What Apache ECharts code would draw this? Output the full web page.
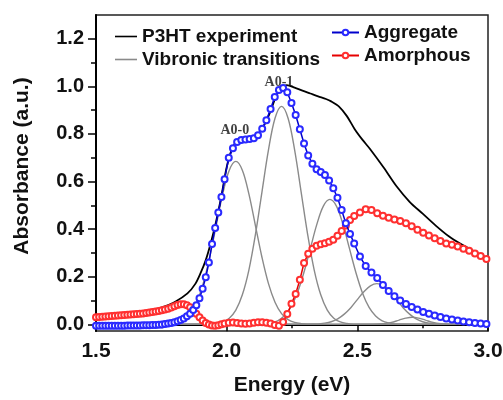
<!DOCTYPE html>
<html><head><meta charset="utf-8">
<script src="https://cdn.jsdelivr.net/npm/echarts@6/dist/echarts.min.js"></script>
<style>html,body{margin:0;padding:0;background:#fff}#c{width:503px;height:400px}</style>
</head><body><div id="c"></div>
<script>
// ---- data ----
const markerE = [1.500,1.512,1.524,1.536,1.548,1.560,1.572,1.584,1.596,1.608,1.620,1.632,1.644,1.656,1.668,1.680,1.692,1.704,1.716,1.728,1.740,1.752,1.764,1.776,1.788,1.800,1.812,1.824,1.836,1.848,1.860,1.872,1.884,1.896,1.908,1.920,1.932,1.944,1.956,1.968,1.980,1.992,
  2.008,2.024,2.040,2.056,2.072,2.088,2.104,2.120,2.136,2.152,2.168,2.184,2.200,2.216,2.232,2.248,2.264,2.280,2.296,2.312,2.328,2.344,2.360,2.376,2.392,2.408,2.424,2.440,2.456,2.472,2.488,
  2.510,2.532,2.554,2.576,2.598,2.620,2.642,2.664,2.686,2.708,2.730,2.752,2.774,2.796,2.818,2.840,2.862,2.884,2.906,2.928,2.950,2.972,2.994];
const aggregate = [-0.006,-0.006,-0.006,-0.006,-0.006,-0.006,-0.006,-0.006,-0.006,-0.006,-0.005,-0.005,-0.005,-0.005,-0.005,-0.004,-0.004,-0.004,-0.003,-0.003,-0.002,-0.001,0.001,0.003,0.006,0.009,0.013,0.018,0.025,0.034,0.045,0.060,0.080,0.110,0.150,0.198,0.260,0.338,0.405,0.470,0.535,0.610,
  0.700,0.740,0.766,0.775,0.777,0.779,0.782,0.795,0.822,0.858,0.905,0.955,0.985,0.993,0.975,0.930,0.880,0.820,0.760,0.710,0.675,0.652,0.640,0.628,0.605,0.572,0.532,0.480,0.425,0.380,0.340,
  0.285,0.245,0.218,0.195,0.165,0.140,0.118,0.100,0.085,0.073,0.062,0.052,0.044,0.037,0.031,0.025,0.020,0.016,0.012,0.009,0.006,0.003,0.001];
const amorphous = [0.030,0.031,0.032,0.033,0.034,0.035,0.036,0.037,0.038,0.039,0.040,0.041,0.042,0.043,0.045,0.046,0.048,0.050,0.052,0.054,0.056,0.059,0.062,0.066,0.071,0.076,0.081,0.084,0.084,0.080,0.072,0.060,0.045,0.030,0.016,0.006,-0.001,-0.005,-0.006,-0.004,0.000,0.004,
  0.007,0.008,0.006,0.003,0.002,0.004,0.007,0.009,0.009,0.007,0.003,-0.003,-0.006,0.010,0.043,0.086,0.128,0.187,0.258,0.297,0.318,0.330,0.337,0.341,0.347,0.356,0.372,0.392,0.415,0.438,0.455,
  0.470,0.484,0.480,0.467,0.456,0.448,0.441,0.434,0.425,0.412,0.398,0.385,0.373,0.362,0.350,0.340,0.334,0.327,0.318,0.309,0.298,0.287,0.275];
const experimentE = [1.50,1.55,1.60,1.65,1.70,1.75,1.80,1.85,1.88,1.90,1.92,1.94,1.96,1.98,2.00,2.02,2.04,2.07,2.10,2.13,2.16,2.19,2.21,2.23,2.26,2.29,2.32,2.35,2.38,2.40,2.43,2.46,2.49,2.52,2.55,2.60,2.65,2.70,2.75,2.80,2.85,2.90,2.95,3.00];
const experiment = [0.025,0.030,0.036,0.044,0.055,0.070,0.093,0.130,0.170,0.215,0.270,0.345,0.435,0.540,0.660,0.735,0.770,0.778,0.785,0.812,0.875,0.960,0.995,1.005,0.995,0.982,0.970,0.958,0.947,0.937,0.915,0.875,0.820,0.775,0.735,0.660,0.580,0.515,0.465,0.415,0.370,0.335,0.305,0.277];
const vib1E = [1.50,1.76,1.785,1.81,1.835,1.86,1.885,1.91,1.935,1.96,1.985,2.01,2.035,2.06,2.085,2.11,2.135,2.16,2.185,2.21,2.235,2.26,2.285,2.31,3.00];
const vib1  = [0,0.001,0.003,0.008,0.020,0.045,0.093,0.171,0.282,0.415,0.548,0.648,0.685,0.648,0.548,0.415,0.282,0.171,0.093,0.045,0.020,0.008,0.003,0.001,0];
const vib2E = [1.50,1.935,1.96,1.985,2.01,2.035,2.06,2.085,2.11,2.135,2.16,2.185,2.21,2.235,2.26,2.285,2.31,2.335,2.36,2.385,2.41,2.435,2.46,2.485,3.00];
const vib2  = [0,0.001,0.0035,0.010,0.026,0.060,0.124,0.228,0.377,0.556,0.733,0.866,0.916,0.866,0.733,0.556,0.377,0.228,0.124,0.060,0.026,0.010,0.0035,0.001,0];
const vib3E = [1.50,2.145,2.17,2.195,2.22,2.245,2.27,2.295,2.32,2.345,2.37,2.395,2.42,2.445,2.47,2.495,2.52,2.545,2.57,2.595,2.62,2.645,3.00];
const vib3  = [0,0.002,0.006,0.015,0.035,0.071,0.131,0.216,0.318,0.420,0.497,0.525,0.497,0.420,0.318,0.216,0.131,0.071,0.035,0.015,0.006,0.002,0];
const vib4E = [1.50,2.35,2.375,2.40,2.425,2.45,2.475,2.50,2.525,2.55,2.575,2.60,2.625,2.65,2.675,2.70,2.725,2.75,2.775,2.80,3.00];
const vib4  = [0,0.002,0.005,0.011,0.023,0.043,0.070,0.104,0.137,0.162,0.171,0.162,0.137,0.104,0.070,0.043,0.023,0.011,0.005,0.002,0];
const vib5E = [1.50,2.56,2.60,2.63,2.66,2.685,2.71,2.735,2.76,2.79,2.82,2.86,3.00];
const vib5  = [0,0,0.003,0.008,0.018,0.026,0.030,0.026,0.018,0.008,0.003,0,0];
const xTicks = [1.5, 2.0, 2.5, 3.0];
const xMinorTicks = [1.75, 2.25, 2.75];
const yTicks = [0, 0.2, 0.4, 0.6, 0.8, 1.0, 1.2];
const yMinorTicks = [0.1, 0.3, 0.5, 0.7, 0.9, 1.1];
const peakNames = ['A0-0', 'A0-1'];
const peakE = [2.031, 2.200];
const peakA = [0.816, 1.015];

// ---- chart ----
const pair = (xs, ys) => xs.map((x, i) => [x, ys[i]]);
const FONT = '"Liberation Sans", Arial, sans-serif';
const LINE_ICON = 'path://M0,0H22V1.6H0Z';
const chart = echarts.init(document.getElementById('c'), null, {renderer: 'canvas'});

const vibSeries = [[vib1E, vib1], [vib2E, vib2], [vib3E, vib3], [vib4E, vib4], [vib5E, vib5]].map(([e, v]) => ({
  name: 'Vibronic transitions', type: 'line', xAxisIndex: 0, yAxisIndex: 0,
  data: pair(e, v), smooth: 0.35, showSymbol: false, symbol: 'none',
  lineStyle: {color: '#8a8a8a', width: 1.4}, itemStyle: {color: '#8a8a8a'}, z: 2, silent: true
}));

chart.setOption({
  animation: false,
  backgroundColor: '#fff',
  grid: {left: 96, right: 15, top: 15, bottom: 69, show: true, borderColor: '#222', borderWidth: 1.5, containLabel: false, outerBoundsMode: 'none'},
  legend: [
    {data: [{name: 'P3HT experiment', icon: LINE_ICON}, {name: 'Vibronic transitions', icon: LINE_ICON}],
     orient: 'vertical', left: 115, top: 27, itemWidth: 22, itemHeight: 7, itemGap: 4, padding: 0,
     textStyle: {fontFamily: FONT, fontSize: 19, fontWeight: 'bold', color: '#111'}},
    {data: ['Aggregate', 'Amorphous'], orient: 'vertical', left: 331, top: 23, itemWidth: 27, itemHeight: 7, itemGap: 4, padding: 0,
     textStyle: {fontFamily: FONT, fontSize: 19, fontWeight: 'bold', color: '#111'}}
  ],
  xAxis: [
    {type: 'value', min: 1.5, max: 3.0, position: 'bottom',
     axisLine: {show: true, lineStyle: {color: '#000', width: 2}},
     axisTick: {show: true, inside: false, length: 7, lineStyle: {color: '#000', width: 1.5}, customValues: xTicks},
     axisLabel: {show: true, customValues: xTicks, margin: 10, formatter: v => v.toFixed(1),
       fontFamily: FONT, fontSize: 21, fontWeight: 'bold', color: '#111'},
     splitLine: {show: false},
     name: 'Energy (eV)', nameLocation: 'middle', nameGap: 44,
     nameTextStyle: {fontFamily: FONT, fontSize: 21, fontWeight: 'bold', color: '#111'}},
    {type: 'value', min: 1.5, max: 3.0, position: 'bottom',
     axisLine: {show: false},
     axisTick: {show: true, inside: false, length: 4, lineStyle: {color: '#000', width: 1.5}, customValues: xMinorTicks},
     axisLabel: {show: false}, splitLine: {show: false}}
  ],
  yAxis: [
    {type: 'value', min: -0.028, max: 1.3, position: 'left',
     axisLine: {show: true, lineStyle: {color: '#000', width: 2}},
     axisTick: {show: true, inside: false, length: 8, lineStyle: {color: '#000', width: 1.5}, customValues: yTicks},
     axisLabel: {show: true, customValues: yTicks, margin: 12, formatter: v => v.toFixed(1),
       fontFamily: FONT, fontSize: 20, fontWeight: 'bold', color: '#111'},
     splitLine: {show: false}},
    {type: 'value', min: -0.028, max: 1.3, position: 'left',
     axisLine: {show: false},
     axisTick: {show: true, inside: false, length: 5, lineStyle: {color: '#000', width: 1.5}, customValues: yMinorTicks},
     axisLabel: {show: false}, splitLine: {show: false}}
  ],
  graphic: [
    {type: 'text', x: 22, y: 166, rotation: Math.PI / 2,
     style: {text: 'Absorbance (a.u.)', fill: '#111', font: 'bold 21px ' + FONT, textAlign: 'center', textVerticalAlign: 'middle'}}
  ],
  series: [
    ...vibSeries,
    {name: 'P3HT experiment', type: 'line', data: pair(experimentE, experiment), smooth: 0.3,
     showSymbol: false, symbol: 'none', lineStyle: {color: '#000', width: 1.8}, itemStyle: {color: '#000'}, z: 3},
    {name: 'Amorphous', type: 'line', data: pair(markerE, amorphous), smooth: false,
     symbol: 'emptyCircle', symbolSize: 6, showSymbol: true,
     lineStyle: {color: '#e60000', width: 1.5}, itemStyle: {color: '#ff3030', borderColor: '#ff3030', borderWidth: 1.2}, z: 4},
    {name: 'Aggregate', type: 'line', data: pair(markerE, aggregate), smooth: false,
     symbol: 'emptyCircle', symbolSize: 6, showSymbol: true,
     lineStyle: {color: '#0000cc', width: 1.5}, itemStyle: {color: '#2a2aff', borderColor: '#2a2aff', borderWidth: 1.2}, z: 5},
    {name: 'peaks', type: 'scatter', data: peakNames.map((n, i) => ({value: [peakE[i], peakA[i]], name: n})),
     symbolSize: 0, z: 6, silent: true,
     label: {show: true, position: 'inside', formatter: p => p.name,
       fontFamily: '"Liberation Serif", "Times New Roman", serif', fontWeight: 'bold', fontSize: 14, color: '#111'}}
  ]
});
</script></body></html>
